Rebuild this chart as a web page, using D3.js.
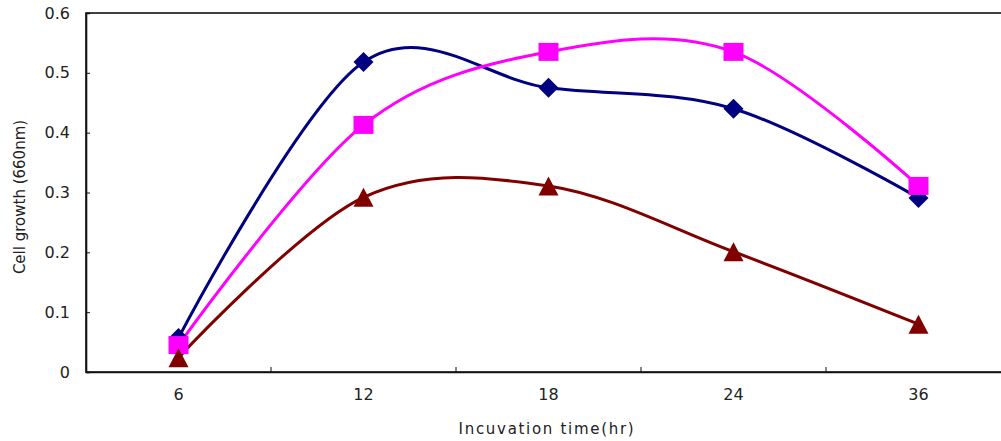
<!DOCTYPE html>
<html>
<head>
<meta charset="utf-8">
<script src="https://cdn.jsdelivr.net/npm/d3@7"></script>
<style>
  html, body { margin: 0; padding: 0; background: #fff; }
  svg { display: block; }
  text { font-family: "DejaVu Sans", "Liberation Sans", sans-serif; fill: #222; }
</style>
</head>
<body>
<svg id="chart" width="1001" height="441"></svg>
<script>
// Incubation times (hours) shown as evenly spaced categories
const hours = ["6", "12", "18", "24", "36"];
// Cell growth (OD at 660 nm) for three cultures
const seriesDiamond  = [0.057, 0.518, 0.475, 0.440, 0.291];
const seriesSquare   = [0.045, 0.413, 0.535, 0.535, 0.311];
const seriesTriangle = [0.024, 0.292, 0.311, 0.201, 0.080];
const yTicks = [0, 0.1, 0.2, 0.3, 0.4, 0.5, 0.6];

const svg = d3.select("#chart");
const plotLeft = 86, plotRight = 1011, plotTop = 13, plotBottom = 372;

const x = d3.scaleBand().domain(hours).range([plotLeft, plotRight]);
const y = d3.scaleLinear().domain([0, 0.6]).range([plotBottom, plotTop]);
const cx = d => x(d) + x.bandwidth() / 2;

// Plot frame (top border; right border lies past the page edge)
svg.append("rect")
  .attr("x", plotLeft).attr("y", plotTop)
  .attr("width", plotRight - plotLeft).attr("height", plotBottom - plotTop)
  .attr("fill", "none").attr("stroke", "#111").attr("stroke-width", 1.6);

// Y axis
const yAxis = svg.append("g")
  .attr("transform", `translate(${plotLeft},0)`)
  .call(d3.axisLeft(y).tickValues(yTicks).tickSize(-4).tickPadding(16)
        .tickFormat(d => d === 0 ? "0" : d3.format(".1f")(d)));
yAxis.select(".domain").attr("stroke", "#111").attr("stroke-width", 1.6);
yAxis.selectAll(".tick line").attr("stroke", "#111");
yAxis.selectAll(".tick text").style("font-size", "16px").attr("fill", "#222");

// X axis: ticks sit on the category boundaries
const xAxis = svg.append("g")
  .attr("transform", `translate(0,${plotBottom})`)
  .call(d3.axisBottom(x).tickSize(0).tickPadding(17));
xAxis.select(".domain").attr("stroke", "#111").attr("stroke-width", 1.6);
xAxis.selectAll(".tick text").style("font-size", "16px").attr("fill", "#222");
xAxis.selectAll(".boundary")
  .data(hours.slice(1))
  .enter().append("line")
  .attr("class", "boundary")
  .attr("x1", d => x(d)).attr("x2", d => x(d))
  .attr("y1", 0).attr("y2", -5)
  .attr("stroke", "#111");

// Axis titles
svg.append("text")
  .attr("x", 547).attr("y", 434)
  .attr("text-anchor", "middle")
  .style("font-size", "15px").style("letter-spacing", "1.7px")
  .text("Incuvation time(hr)");
svg.append("text")
  .attr("transform", "translate(25,197) rotate(-90)")
  .attr("text-anchor", "middle")
  .style("font-size", "15px")
  .text("Cell growth (660nm)");

const line = d3.line()
  .x((d, i) => cx(hours[i]))
  .y(d => y(d))
  .curve(d3.curveCatmullRom.alpha(0));

const series = [
  { values: seriesDiamond,  color: "#000080", shape: "diamond" },
  { values: seriesSquare,   color: "#FF00FF", shape: "square" },
  { values: seriesTriangle, color: "#800000", shape: "triangle" }
];

function markerPath(shape) {
  if (shape === "diamond") return "M0,-10L10,0L0,10L-10,0Z";
  if (shape === "square") return "M-10,-9L10,-9L10,9L-10,9Z";
  return "M0,-9.5L10,9.5L-10,9.5Z";
}

const g = svg.append("g");
series.forEach(s => {
  g.append("path")
    .datum(s.values)
    .attr("d", line)
    .attr("fill", "none")
    .attr("stroke", s.color)
    .attr("stroke-width", 3);
});
series.forEach(s => {
  g.selectAll(null)
    .data(s.values)
    .enter().append("path")
    .attr("d", markerPath(s.shape))
    .attr("transform", (d, i) => `translate(${cx(hours[i])},${y(d)})`)
    .attr("fill", s.color);
});
</script>
</body>
</html>
